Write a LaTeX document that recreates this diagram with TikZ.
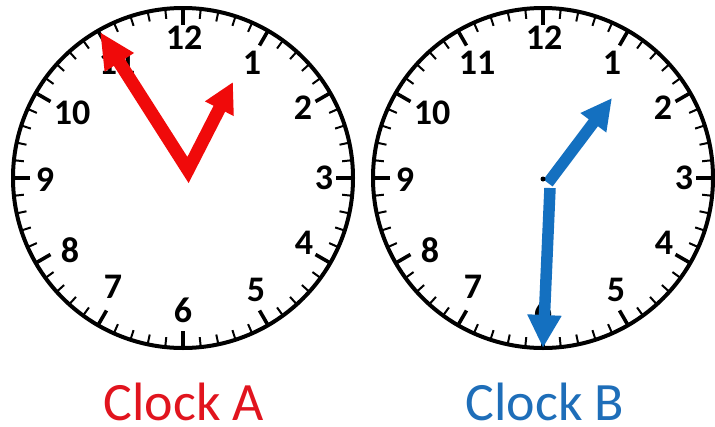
\documentclass[tikz,border=0pt]{standalone}
\usepackage{fontspec}
\setmainfont{Carlito}
\usetikzlibrary{arrows.meta}
\definecolor{handred}{RGB}{240,10,10}
\definecolor{labelred}{RGB}{225,20,30}
\definecolor{handblue}{RGB}{20,112,192}
\definecolor{labelblue}{RGB}{30,110,185}
\tikzset{
  rim/.style={line width=4pt, black},
  minortick/.style={line width=2pt, black},
  majortick/.style={line width=3.6pt, black},
  numeral/.style={inner sep=0pt, font=\fontsize{36}{36}\selectfont\bfseries},
  caption/.style={inner sep=0pt, anchor=base, font=\fontsize{54}{54}\selectfont},
  redhand/.style={draw=handred, line width=13pt, line join=miter},
  bluehand/.style={draw=handblue, line width=11.5pt},
  clockface/.pic={
    \draw[rim] (0,0) circle (170);
    \foreach \i in {0,...,59} {\draw[minortick] (\i*6:169) -- (\i*6:160);}
    \foreach \i in {0,5,...,55} {\draw[majortick] (\i*6:169) -- (\i*6:153);}
    \node[numeral] (-n12) at (1,140) {12};
    \node[numeral] (-n1) at (69,115) {1};
    \node[numeral] (-n2) at (120,70) {2};
    \node[numeral] (-n3) at (141,0) {3};
    \node[numeral] (-n4) at (121,-65) {4};
    \node[numeral] (-n5) at (73,-112) {5};
    \node[numeral] (-n6) at (0,-132) {6};
    \node[numeral] (-n7) at (-70,-109) {7};
    \node[numeral] (-n8) at (-113,-72) {8};
    \node[numeral] (-n9) at (-138,-2) {9};
    \node[numeral] (-n10) at (-111,65) {10};
    \node[numeral] (-n11) at (-66,115) {11};
  }
}
\begin{document}
\begin{tikzpicture}[x=1pt,y=1pt]
\useasboundingbox (0,-426) rectangle (715,0);
\fill[white] (0,-426) rectangle (715,0);
% clock faces
\pic (A) at (183,-178) {clockface};
\pic (B) at (543,-178) {clockface};
% clock A hands
\coordinate (Amin) at (100,-32);
\coordinate (Apiv) at (188,-170);
\coordinate (Ahr) at (233,-82);
\draw[redhand, {Triangle[length=36pt,width=32pt]}-{Triangle[length=30pt,width=30pt]}] (Amin) -- (Apiv) -- (Ahr);
% clock B hands
\coordinate (Bhs) at (548,-183);
\coordinate (Bhr) at (612,-98);
\coordinate (Bms) at (550,-188);
\coordinate (Bmin) at (543,-348);
\draw[bluehand, -{Triangle[length=31pt,width=30pt]}] (Bhs) -- (Bhr);
\draw[bluehand, -{Triangle[length=33pt,width=32pt]}] (Bms) -- (Bmin);
\fill[black] (543,-179) circle (2.5);
% captions
\node[caption, text=labelred] (capA) at (184,-420) {Clock A};
\node[caption, text=labelblue] (capB) at (545,-420) {Clock B};
\end{tikzpicture}
\end{document}
